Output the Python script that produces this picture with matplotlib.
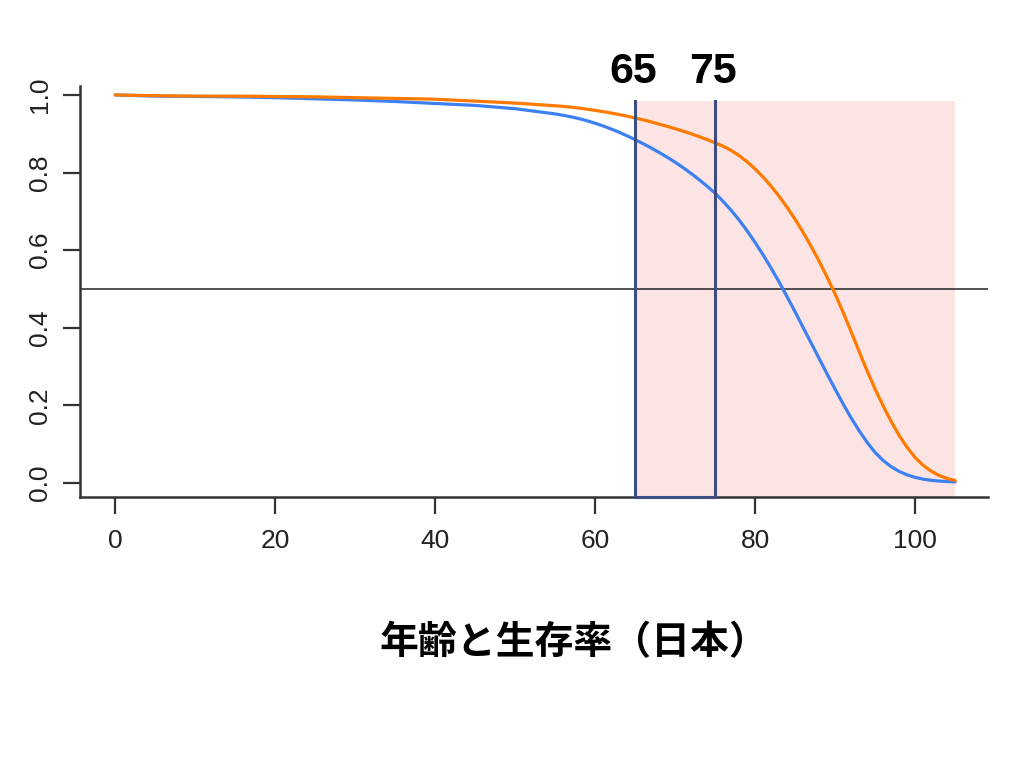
import matplotlib
matplotlib.use("Agg")
import matplotlib.pyplot as plt
from matplotlib.patches import Rectangle

# Data: survival rate by age (Japan)
ages = [0, 5, 10, 15, 20, 25, 30, 35, 40, 45, 50] + list(range(55, 106))
male = [1.0, 0.997, 0.996, 0.995, 0.993, 0.990, 0.987, 0.983, 0.978, 0.973, 0.9645,
        0.951, 0.9475, 0.9435, 0.9388, 0.9333, 0.927, 0.920, 0.9122, 0.9037, 0.8945,
        0.8847, 0.8743, 0.8633, 0.8517, 0.8395, 0.8265, 0.8125, 0.7975, 0.7815, 0.7645,
        0.7465, 0.7255, 0.7025, 0.6775, 0.6495, 0.6195, 0.5875, 0.5535, 0.5175, 0.4795,
        0.4405, 0.4005, 0.3605, 0.3205, 0.2805, 0.2415, 0.2035, 0.1675, 0.1345, 0.1045,
        0.0785, 0.058, 0.042, 0.030, 0.021, 0.0145, 0.010, 0.007, 0.005, 0.0038, 0.003]
female = [1.0, 0.998, 0.997, 0.997, 0.996, 0.995, 0.993, 0.991, 0.989, 0.984, 0.979,
          0.972, 0.9705, 0.9685, 0.966, 0.9632, 0.9602, 0.9569, 0.9533, 0.9494, 0.9452,
          0.9407, 0.9358, 0.9305, 0.9248, 0.9190, 0.9130, 0.9066, 0.8998, 0.8925, 0.8848,
          0.8766, 0.8678, 0.857, 0.8435, 0.8275, 0.809, 0.788, 0.7645, 0.7385, 0.710,
          0.679, 0.6455, 0.6095, 0.571, 0.530, 0.4865, 0.4395, 0.3895, 0.3385, 0.2885,
          0.2415, 0.1985, 0.1585, 0.1225, 0.0915, 0.0655, 0.0455, 0.0305, 0.0195, 0.0115, 0.0065]
marks = [65, 75]
mark_labels = ["65", "75"]
xticks = [0, 20, 40, 60, 80, 100]
yticks = [0.0, 0.2, 0.4, 0.6, 0.8, 1.0]
title = "年齢と生存率（日本）"

fig = plt.figure(figsize=(10.24, 7.68), dpi=100)
L, R, B, T = 80 / 1024, 988 / 1024, 1 - 497 / 768, 1 - 86 / 768
ax = fig.add_axes([L, B, R - L, T - B])
xmin, xmax = -4.4, 109.1
ymin, ymax = -0.036, 1.023
ax.set_xlim(xmin, xmax)
ax.set_ylim(ymin, ymax)

top = 0.985
ax.add_patch(Rectangle((65, ymin), 40, top - ymin, facecolor="#fde4e4",
                       edgecolor="none", zorder=0))
ax.axhline(0.5, color="#333333", lw=1.2, zorder=1)
ax.plot(ages, male, color="#3d80f2", lw=2.3, zorder=3, solid_capstyle="round")
ax.plot(ages, female, color="#ff7b00", lw=2.3, zorder=3, solid_capstyle="round")
mc = "#3c4e80"
for m in marks:
    ax.plot([m, m], [ymin, top], color=mc, lw=2.2, zorder=4, clip_on=False)
ax.plot([marks[0], marks[1]], [ymin, ymin], color=mc, lw=2.2, zorder=5, clip_on=False)
for m, lab in zip(marks, mark_labels):
    ax.text(m - 0.3, 1.06, lab, ha="center", va="center", fontsize=31, fontweight="bold",
            family="Liberation Sans", color="black", clip_on=False)

for s in ["top", "right"]:
    ax.spines[s].set_visible(False)
for s in ["left", "bottom"]:
    ax.spines[s].set_linewidth(1.8)
    ax.spines[s].set_color("#333333")

ax.set_xticks(xticks)
ax.set_xticklabels([str(t) for t in xticks])
ax.set_yticks(yticks)
ax.set_yticklabels([f"{t:.1f}" for t in yticks], rotation=90, va="center")
ax.tick_params(axis="both", length=12, width=1.6, color="#333333",
               labelsize=19, labelcolor="#222222")
ax.tick_params(axis="x", pad=11)
ax.tick_params(axis="y", pad=8)
for lbl in ax.get_xticklabels() + ax.get_yticklabels():
    lbl.set_family("Liberation Sans")

fig.text(0.56, 1 - 643 / 768, title, ha="center", va="center", fontsize=28,
         fontweight="bold", family=["Noto Sans CJK JP", "DejaVu Sans"])

fig.savefig("out.png", dpi=100)
